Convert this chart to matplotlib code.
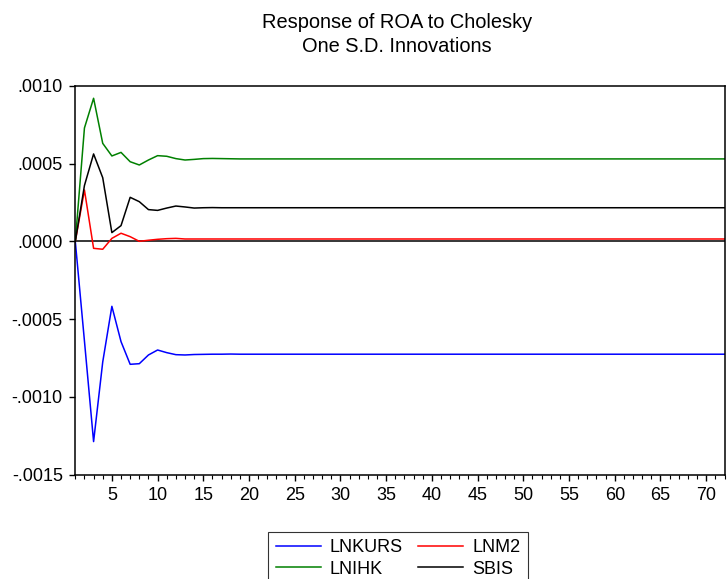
import matplotlib
matplotlib.use("Agg")
import matplotlib.pyplot as plt
import numpy as np

plt.rcParams['font.family'] = ['Liberation Sans', 'DejaVu Sans']

# ---- data ----
periods = list(range(1, 73))
tail_n = 72

lnkurs_head = [0.0, -0.00064, -0.001287, -0.000775, -0.000417, -0.000644, -0.000790,
               -0.000786, -0.000730, -0.000698, -0.000715, -0.000728, -0.000730,
               -0.000727, -0.000726, -0.000725, -0.000725, -0.000724]
lnkurs_level = -0.000725

lnm2_head = [0.0, 0.000331, -0.000044, -0.000050, 0.000020, 0.000053, 0.000031,
             0.000001, 0.000008, 0.000014, 0.000018, 0.000020, 0.000016, 0.000016]
lnm2_level = 0.000016

lnihk_head = [0.0, 0.000730, 0.000921, 0.000631, 0.000550, 0.000573, 0.000513,
              0.000492, 0.000524, 0.000552, 0.000548, 0.000533, 0.000524, 0.000528,
              0.000533, 0.000534, 0.000533, 0.000532]
lnihk_level = 0.000531

sbis_head = [0.0, 0.000360, 0.000563, 0.000410, 0.000057, 0.000102, 0.000284,
             0.000256, 0.000205, 0.000200, 0.000215, 0.000228, 0.000222, 0.000215,
             0.000217, 0.000218]
sbis_level = 0.000217

def full(head, level):
    return head + [level] * (tail_n - len(head))

series_names = ['LNKURS', 'LNM2', 'LNIHK', 'SBIS']
series_values = [full(lnkurs_head, lnkurs_level), full(lnm2_head, lnm2_level),
                 full(lnihk_head, lnihk_level), full(sbis_head, sbis_level)]
series_colors = ['#0000ff', '#ff0000', '#008000', '#000000']

ytick_vals = [-0.0015, -0.0010, -0.0005, 0.0, 0.0005, 0.0010]
ytick_labels = ['-.0015', '-.0010', '-.0005', '.0000', '.0005', '.0010']
xtick_vals = list(range(5, 71, 5))

title_lines = ["Response of ROA to Cholesky", "One S.D. Innovations"]

# ---- plot ----
W, H = 728, 579
fig = plt.figure(figsize=(W / 100, H / 100), dpi=100)
ax = fig.add_axes([75.3 / W, (H - 474.7) / H, (724.5 - 75.3) / W, (474.7 - 86) / H])

ax.axhline(0, color='black', lw=1.1, zorder=1)
handles = []
for name, vals, col in zip(series_names, series_values, series_colors):
    h, = ax.plot(periods, vals, color=col, lw=1.1, label=name, zorder=2)
    handles.append(h)

ax.set_xlim(1, 72)
ax.set_ylim(-0.0015, 0.0010)
ax.set_yticks(ytick_vals)
ax.set_yticklabels(ytick_labels)
ax.set_xticks(xtick_vals)
ax.set_xticks(range(1, 73), minor=True)
ax.tick_params(axis='both', which='major', direction='out', length=4.5, width=1,
               labelsize=13, colors='black')
ax.tick_params(axis='x', which='major', pad=4.5)
ax.tick_params(axis='y', which='major', pad=4.5)
ax.tick_params(axis='x', which='minor', direction='out', length=3, width=0.8)
ax.tick_params(axis='y', which='minor', left=False)
for s in ax.spines.values():
    s.set_linewidth(1.1)
    s.set_color('black')

title_baselines = [27.7, 51.7]
for txt, yb in zip(title_lines, title_baselines):
    fig.text(397 / W, 1 - yb / H, txt, ha='center', va='baseline', fontsize=14.4)

# legend order: LNKURS, LNM2 / LNIHK, SBIS
order = [0, 2, 1, 3]
leg = fig.legend([handles[i] for i in order], [series_names[i] for i in order],
                 ncol=2, loc='upper center', bbox_to_anchor=(398 / W, 1 - 532 / H),
                 frameon=True, fancybox=False, fontsize=13, handlelength=2.5,
                 handletextpad=0.5, columnspacing=0.85, borderpad=0.4,
                 labelspacing=0.25, borderaxespad=0)
leg.get_frame().set_edgecolor('black')
leg.get_frame().set_linewidth(0.8)

fig.savefig('out.png', dpi=100)
